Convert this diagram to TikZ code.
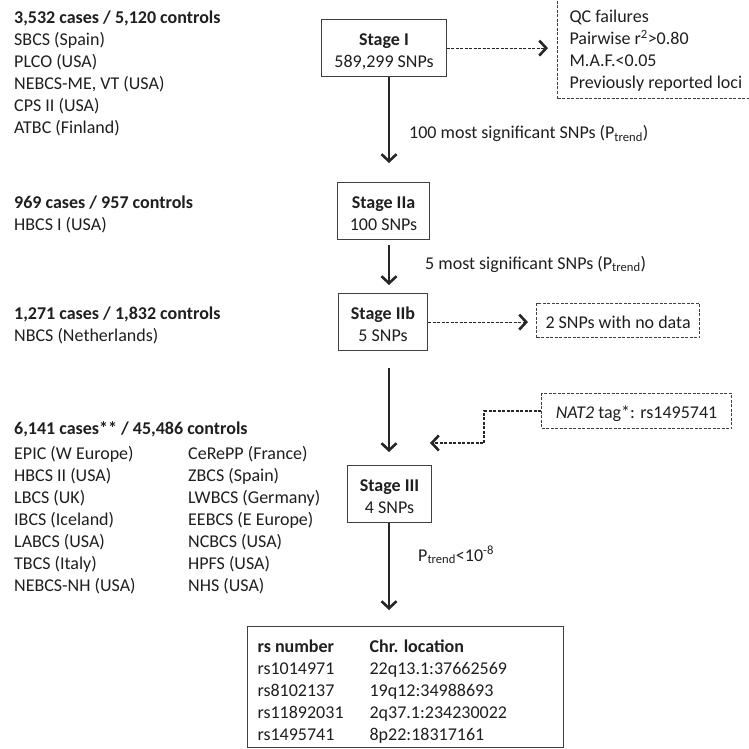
\documentclass[tikz,border=0pt]{standalone}
\usepackage{fontspec}
\setmainfont{Carlito}
\usepackage{tikz}
\usetikzlibrary{arrows.meta, positioning}
\definecolor{inkgray}{rgb}{0.15,0.15,0.15}
\definecolor{boxgray}{rgb}{0.25,0.25,0.25}

\tikzset{
  stagebox/.style={draw=boxgray, line width=1.2pt, inner xsep=12.5pt, inner ysep=0pt, text height=26pt, text depth=31pt, anchor=north},
  dashbox/.style={draw=boxgray, line width=1pt, dash pattern=on 3pt off 1.5pt, inner ysep=0pt},
  flow/.style={draw=inkgray, line width=1.3pt, -{Straight Barb[length=7pt,width=15pt,line width=2.6pt]}},
  dflow/.style={flow, line width=1.1pt, dash pattern=on 3pt off 1.5pt},
  cohort/.style={anchor=base west, inner sep=0pt},
}

\begin{document}
\begin{tikzpicture}[x=1pt, y=-1pt, every node/.style={font=\fontsize{18}{22}\selectfont, text=black!88}]
			\fill[white] (0,0) rectangle (749,749);
			\clip (0,0) rectangle (749,749);
			\pgfmathsetmacro{\axisx}{389}
			\coordinate (axis) at (\axisx,0);
			%% study groups
			\node[cohort] (st1) at (14,24) {\begin{tabular}[t]{@{}l@{}}\textbf{3,532 cases / 5,120 controls}\\SBCS (Spain)\\PLCO (USA)\\NEBCS-ME, VT (USA)\\CPS II (USA)\\ATBC (Finland)\end{tabular}};
			\node[cohort] (st2a) at (14,208) {\begin{tabular}[t]{@{}l@{}}\textbf{969 cases / 957 controls}\\HBCS I (USA)\end{tabular}};
			\node[cohort] (st2b) at (14,319) {\begin{tabular}[t]{@{}l@{}}\textbf{1,271 cases / 1,832 controls}\\NBCS (Netherlands)\end{tabular}};
			\node[cohort] (st3) at (14,434) {\textbf{6,141 cases** / 45,486 controls}};
			\node[cohort] (st3l) at (14,459) {\begin{tabular}[t]{@{}l@{}}EPIC (W Europe)\\HBCS II (USA)\\LBCS (UK)\\IBCS (Iceland)\\LABCS (USA)\\TBCS (Italy)\\NEBCS-NH (USA)\end{tabular}};
			\node[cohort] (st3r) at (188,459) {\begin{tabular}[t]{@{}l@{}}CeRePP (France)\\ZBCS (Spain)\\LWBCS (Germany)\\EEBCS (E Europe)\\NCBCS (USA)\\HPFS (USA)\\NHS (USA)\end{tabular}};
			%% stages
			\node[stagebox] (s1) at (384,19) {\begin{tabular}[t]{@{}c@{}}\textbf{Stage I}\\589,299 SNPs\end{tabular}};
			\node[stagebox] (s2a) at (383.5,182) {\begin{tabular}[t]{@{}c@{}}\textbf{Stage IIa}\\100 SNPs\end{tabular}};
			\node[stagebox] (s2b) at (383,293) {\begin{tabular}[t]{@{}c@{}}\textbf{Stage IIb}\\5 SNPs\end{tabular}};
			\node[stagebox] (s3) at (389.5,465) {\begin{tabular}[t]{@{}c@{}}\textbf{Stage III}\\4 SNPs\end{tabular}};
			\node[draw=boxgray, line width=1.2pt, anchor=north west, inner xsep=10pt, inner ysep=0pt, text height=26pt, text depth=95pt] (tbl) at (247,626) {\makebox[296pt][l]{\begin{tabular}[t]{@{}p{112pt}@{}l@{}}\textbf{rs number}&\textbf{Chr. location}\\rs1014971&22q13.1:37662569\\rs8102137&19q12:34988693\\rs11892031&2q37.1:234230022\\rs1495741&8p22:18317161\end{tabular}}};
			%% side boxes
			\node[dashbox, anchor=base west, inner xsep=12pt, text height=100pt, text depth=10pt] (qc) at (557,89) {\makebox[185pt][l]{\begin{tabular}[b]{@{}l@{}}QC failures\\Pairwise r\textsuperscript{2}>0.80\\M.A.F.<0.05\\Previously reported loci\end{tabular}}};
			\node[dashbox, anchor=north west, inner xsep=9pt, text height=25pt, text depth=9pt] (nodata) at (536,303) {2 SNPs with no data};
			\node[dashbox, anchor=north west, inner xsep=13pt, text height=25pt, text depth=10pt, minimum width=190pt] (nat) at (541,393) {\textit{NAT2} tag*: rs1495741};
			%% arrow labels
			\node[cohort] (pass1) at (409,139) {100 most significant SNPs (P\textsubscript{trend})};
			\node[cohort] (pass2) at (425,269) {5 most significant SNPs (P\textsubscript{trend})};
			\node[cohort] (pass3) at (418,561) {P\textsubscript{trend}<10\textsuperscript{-8}};
			%% connectors
			\draw[flow, shorten >=19pt] (s1.south -| axis) -- (s2a.north -| axis);
			\draw[flow, shorten <=5pt, shorten >=8pt] (s2a.south -| axis) -- (s2b.north -| axis);
			\draw[flow, shorten <=17pt, shorten >=13pt] (s2b.south -| axis) -- (s3.north -| axis);
			\draw[flow, shorten >=16pt] (s3.south -| axis) -- (tbl.north -| axis);
			\draw[dflow, shorten >=9pt] (s1.east) -- (s1.east -| qc.west);
			\draw[dflow, shorten >=8pt] (s2b.east) -- (s2b.east -| nodata.west);
			\coordinate (bend) at (484,443);
			\coordinate (natin) at (430,443);
			\draw[dflow] (nat.west) -| (bend) -- (natin);
\end{tikzpicture}
\end{document}
